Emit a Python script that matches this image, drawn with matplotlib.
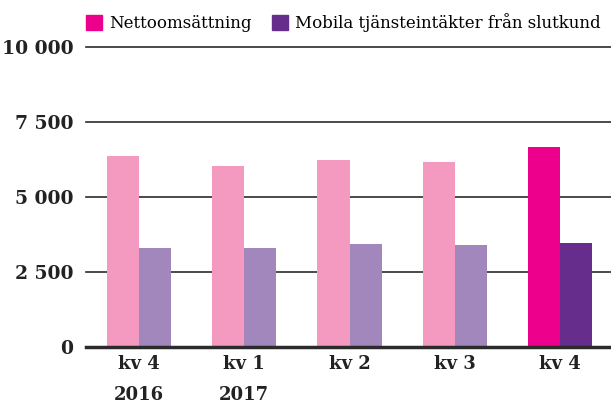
import numpy as np
import matplotlib.pyplot as plt
from matplotlib.patches import Patch

quarters = ["kv 4", "kv 1", "kv 2", "kv 3", "kv 4"]
years = ["2016", "2017", "", "", ""]
netto = [6370, 6030, 6230, 6170, 6670]
mobila = [3310, 3300, 3430, 3400, 3470]
yticks = [0, 2500, 5000, 7500, 10000]
ytick_labels = ["0", "2 500", "5 000", "7 500", "10 000"]

# light colours for earlier quarters, strong for latest
netto_col = ["#f49ac1"] * 4 + ["#ec008c"]
mobila_col = ["#a287bd"] * 4 + ["#662d8c"]

plt.rcParams['font.family'] = ['DejaVu Serif']

fig = plt.figure(figsize=(6.11, 4.05), dpi=100)
ax = fig.add_axes([86/611, 1-347/405, 1-86/611, 300/405])

x = np.arange(len(quarters))
w = 0.305
ax.bar(x - w/2, netto, width=w, color=netto_col, zorder=3)
ax.bar(x + w/2, mobila, width=w, color=mobila_col, zorder=3)

ax.set_xlim(-0.505, 4.485)
ax.set_ylim(0, 10000)
for v in yticks[1:]:
    ax.axhline(v, color="#2b2b2b", lw=1.2, zorder=1, clip_on=False)
ax.axhline(0, color="#2b2b2b", lw=2.5, zorder=4, clip_on=False)

for s in ax.spines.values():
    s.set_visible(False)
ax.set_yticks(yticks)
ax.set_yticklabels(ytick_labels, fontsize=13.5, fontweight="bold", color="#222222")
ax.tick_params(axis="y", length=0, pad=9)
ax.set_xticks(x)
ax.set_xticklabels(quarters, fontsize=13, fontweight="bold", color="#222222")
ax.tick_params(axis="x", length=0, pad=6)

for i, yr in enumerate(years):
    if yr:
        ax.text(i, -1600, yr, ha="center", va="center", fontsize=13,
                fontweight="bold", color="#222222", transform=ax.transData,
                clip_on=False)

handles = [Patch(color="#ec008c"), Patch(color="#662d8c")]
ax.legend(handles, ["Nettoomsättning", "Mobila tjänsteintäkter från slutkund"],
          ncol=2, loc="lower right", bbox_to_anchor=(0.98, 1.05), frameon=False,
          handlelength=1.0, handleheight=1.0, handletextpad=0.4,
          columnspacing=1.2, fontsize=12, borderaxespad=0, borderpad=0)

fig.savefig("out.png", dpi=100)
